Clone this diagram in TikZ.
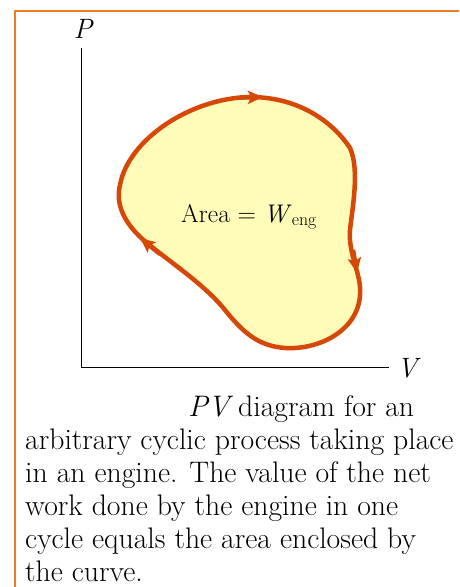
\documentclass[tikz,border=0pt]{standalone}
\usepackage{fontspec}
\usetikzlibrary{arrows.meta}
\definecolor{frameorange}{RGB}{238,125,40}
\definecolor{cyclered}{RGB}{214,72,8}
\definecolor{areayellow}{RGB}{255,251,184}

\begin{document}
\begin{tikzpicture}[
    x=1pt, y=-1pt,
    >=Stealth,
    frame/.style={draw=frameorange, line width=1.8pt},
    axis/.style={draw=black, line width=1pt},
    loopline/.style={draw=cyclered, line width=4.5pt, fill=areayellow},
    looptip/.style={draw=cyclered, line width=4.5pt,
        -{Stealth[length=15pt,width=13pt,inset=3pt]}},
    axlabel/.style={font=\fontsize{28}{28}\selectfont\itshape, inner sep=0pt},
    arealabel/.style={font=\fontsize{25.5}{28}\selectfont, inner sep=0pt},
    caption/.style={font=\fontsize{29.7}{33}\selectfont, align=left, inner sep=0pt}
]
\useasboundingbox (0,0) rectangle (459,587);

% frame
\draw[frame] (15,587) -- (15,11) -- (459,11);

% axes
\coordinate (origin) at (81,367);
\coordinate (ptop) at (81,48);
\coordinate (vend) at (389,367);
\draw[axis] (ptop) -- (origin) -- (vend);
\node[axlabel] (plabel) at (83,29) {P};
\node[axlabel] (vlabel) at (407,368) {V};

% cycle
\path[loopline] (250,97)
    .. controls (302,97) and (335,125) .. (350,148)
    .. controls (360,170) and (352,210) .. (350,230)
    .. controls (348,255) and (362,275) .. (360,295)
    .. controls (358,330) and (320,350) .. (285,348)
    .. controls (260,346) and (245,335) .. (225,310)
    .. controls (205,285) and (170,262) .. (147,243)
    .. controls (125,225) and (115,205) .. (120,185)
    .. controls (128,140) and (190,98) .. (250,97) -- cycle;

% arrow tips on the cycle
\coordinate (topa) at (240,97.5);
\coordinate (topb) at (263,97);
\coordinate (righta) at (353,250);
\coordinate (rightb) at (357,273);
\coordinate (lefta) at (160,254);
\coordinate (leftb) at (140,238);
\draw[looptip] (topa) -- (topb);
\draw[looptip] (righta) -- (rightb);
\draw[looptip] (lefta) -- (leftb);

\node[arealabel, anchor=base west] (area) at (181,222) {Area = \textit{W}\textsubscript{eng}};

% caption
\node[caption, anchor=north west] (cap) at (25,395) {%
\hspace*{163pt}\textit{PV}\,diagram for an\\
arbitrary cyclic process taking place\\
in an engine. The value of the net\\
work done by the engine in one\\
cycle equals the area enclosed by\\
the curve.};

\end{tikzpicture}
\end{document}
